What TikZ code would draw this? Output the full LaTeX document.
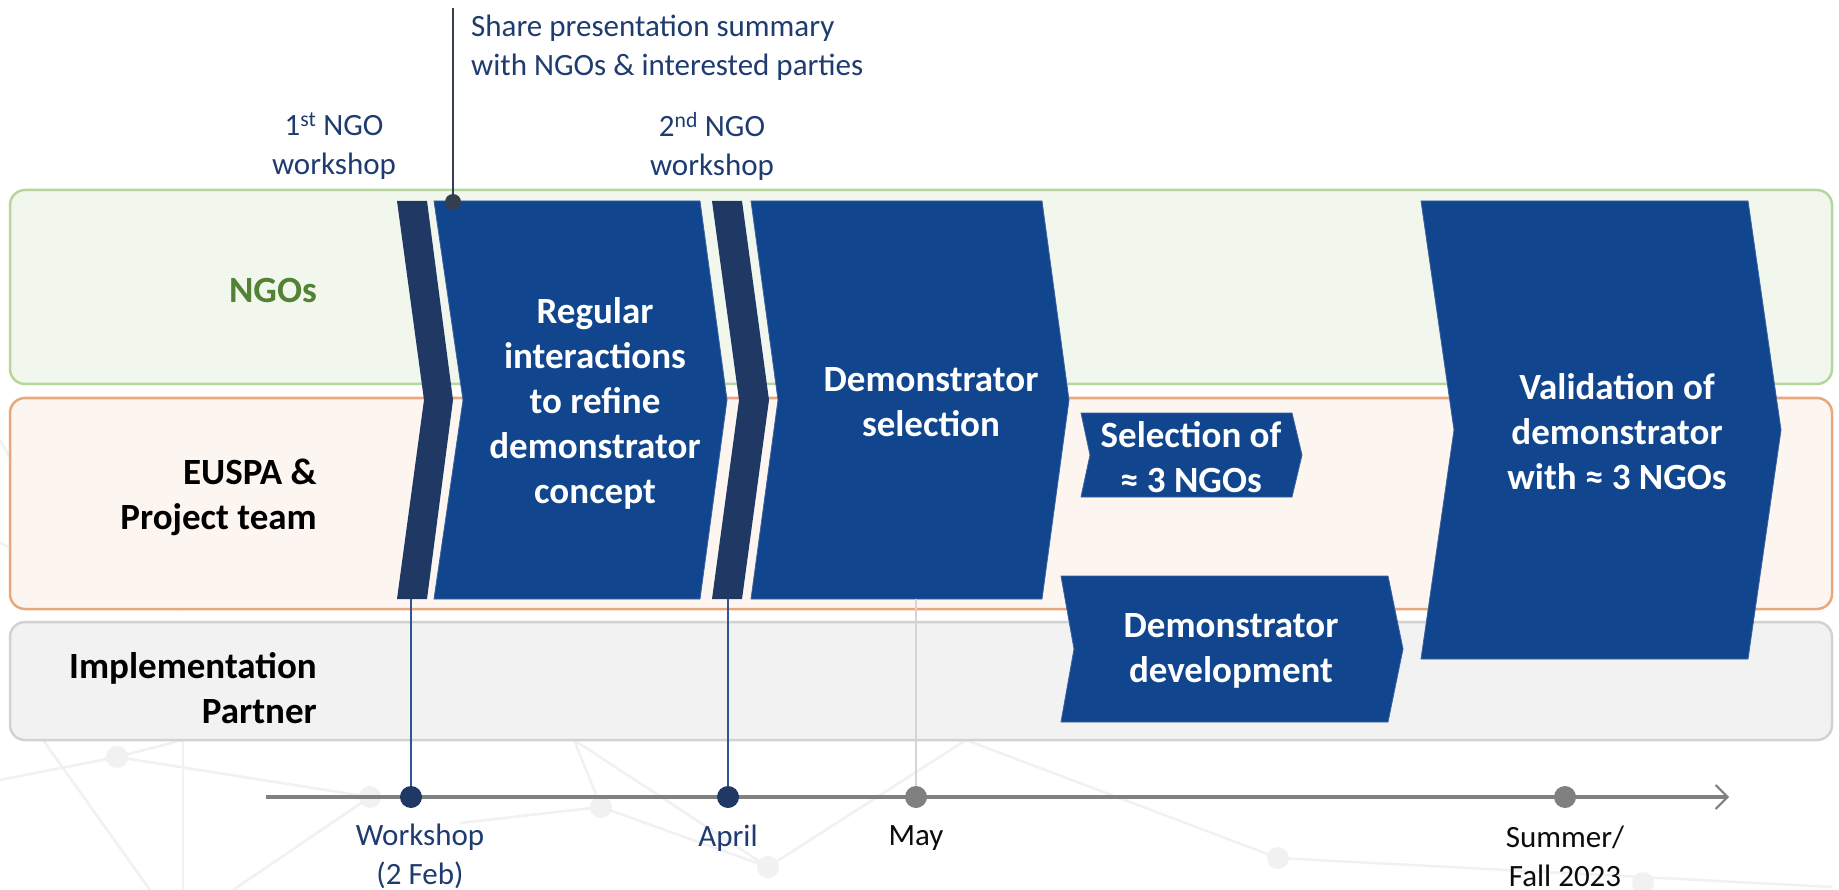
\documentclass[tikz,border=0pt]{standalone}
\usepackage{fontspec}
\setmainfont{Carlito}
\usetikzlibrary{arrows.meta}
\definecolor{chevblue}{HTML}{11468E}
\definecolor{chevedge}{HTML}{3A63A0}
\definecolor{darkbar}{HTML}{203864}
\definecolor{labblue}{HTML}{1F3C70}
\definecolor{ngogreen}{HTML}{548235}
\definecolor{ngofill}{HTML}{F1F7EC}
\definecolor{ngoline}{HTML}{B5D69D}
\definecolor{eufill}{HTML}{FDF5F0}
\definecolor{euline}{HTML}{E9A77D}
\definecolor{imfill}{HTML}{F2F2F2}
\definecolor{imline}{HTML}{D2D2D2}
\definecolor{tlgray}{HTML}{808080}
\definecolor{slate}{HTML}{333F50}
\definecolor{vblue}{HTML}{2F5597}
\definecolor{netgray}{HTML}{F1F1F1}
\definecolor{maygray}{HTML}{D5D5D5}
\definecolor{nearblack}{HTML}{0D0D0D}

% #1 style, #2 x-left, #3 x-right, #4 y-top, #5 y-bottom, #6 notch depth, #7 tip depth
\newcommand\chevshape[7]{%
  \path[#1] (#2,#4) -- (#3,#4) -- ({#3+#7},{(#4+#5)/2}) -- (#3,#5) -- (#2,#5)
    -- ({#2+#6},{(#4+#5)/2}) -- cycle;}

\tikzset{
  bluechev/.style={fill=chevblue, draw=chevedge, line width=0.8pt},
  darkchev/.style={fill=darkbar},
  lane/.style={rounded corners=15pt, line width=2.5pt},
  chevtext/.style={text=white, font=\fontsize{37}{45}\selectfont\bfseries, align=center, inner sep=0pt},
  lanelabel/.style={font=\fontsize{37}{45}\selectfont\bfseries, align=right, anchor=east, inner sep=0pt},
  toplabel/.style={text=labblue, font=\fontsize{31}{39}\selectfont, align=center, inner sep=0pt},
  datelabel/.style={font=\fontsize{31}{39}\selectfont, align=center, inner sep=0pt},
  navydot/.style={circle, fill=darkbar, minimum size=22pt, inner sep=0pt},
  graydot/.style={circle, fill=tlgray, minimum size=22pt, inner sep=0pt},
  netline/.style={draw=netgray, line width=2.5pt},
  netnode/.style={circle, fill=netgray, minimum size=22pt, inner sep=0pt},
  blueline/.style={draw=vblue, line width=1.5pt},
}

\begin{document}
\begin{tikzpicture}[x=1pt, y=-1pt]
\useasboundingbox (0,0) rectangle (1839,890);
\fill[white] (0,0) rectangle (1839,890);

% faint network watermark
\coordinate (n1) at (80,580);
\coordinate (n2) at (183,610);
\coordinate (n3) at (0,780);
\coordinate (n4) at (117,757);
\coordinate (n5) at (370,797);
\coordinate (n6) at (601,807);
\coordinate (n7) at (768,867);
\coordinate (n8) at (966,740);
\coordinate (n9) at (1278,858);
\coordinate (n10) at (1643,883);
\coordinate (n11) at (0,440);
\coordinate (n12) at (150,890);
\coordinate (n13) at (233,890);
\coordinate (n14) at (1832,887);
\coordinate (n15) at (183,890);
\coordinate (n16) at (574,740);
\coordinate (n17) at (43,740);
\coordinate (n18) at (183,740);
\coordinate (n19) at (460,823);
\coordinate (n20) at (0,543);
\draw[netline] (n11) -- (n1) -- (n2);
\draw[netline] (n20) -- (n1);
\draw[netline] (n3) -- (n4) -- (n18);
\draw[netline] (n4) -- (n5) -- (n13);
\draw[netline] (n17) -- (n12);
\draw[netline] (n18) -- (n15);
\draw[netline] (n19) -- (n6) -- (n16) -- (n7) -- (n8) -- (n9) -- (n14);
\draw[netline] (n6) -- (n7);
\node[netnode] (w1) at (n1) {};
\node[netnode] (w4) at (n4) {};
\node[netnode] (w5) at (n5) {};
\node[netnode] (w6) at (n6) {};
\node[netnode] (w7) at (n7) {};
\node[netnode] (w9) at (n9) {};
\node[netnode] (w10) at (n10) {};

% swim lanes
\draw[lane, draw=ngoline, fill=ngofill] (10,190) rectangle (1832,384);
\draw[lane, draw=euline, fill=eufill] (10,398) rectangle (1832,609);
\draw[lane, draw=imline, fill=imfill] (10,622) rectangle (1832,740);

\node[lanelabel, text=ngogreen] (lngo) at (317,291) {NGOs};
\node[lanelabel, text=black] (leuspa) at (317,497) {EUSPA \&\\Project team};
\node[lanelabel, text=black] (limpl) at (317,688) {Implementation\\Partner};

% chevrons
\chevshape{darkchev}{397}{427}{201}{599}{27}{26}
\chevshape{bluechev}{434}{700}{201}{599}{29}{27}
\chevshape{darkchev}{712}{742}{201}{599}{27}{27}
\chevshape{bluechev}{751}{1042}{201}{599}{27}{27}
\chevshape{bluechev}{1081}{1292}{413}{497}{9}{10}
\chevshape{bluechev}{1061}{1388}{576}{722}{13}{15}
\chevshape{bluechev}{1421}{1748}{201}{659}{33}{33}

\node[chevtext] (regular) at (595,403) {Regular\\interactions\\to refine\\demonstrator\\concept};
\node[chevtext] (demsel) at (931,402) {Demonstrator\\selection};
\node[chevtext] (sel3) at (1191,457) {Selection of\\≈ 3 NGOs};
\node[chevtext] (demdev) at (1231,651) {Demonstrator\\development};
\node[chevtext] (valid) at (1617,432) {Validation of\\demonstrator\\with ≈ 3 NGOs};

% top labels
\node[toplabel] (ws1) at (334,146) {1\textsuperscript{st} NGO\\workshop};
\node[toplabel] (ws2) at (712,146) {2\textsuperscript{nd} NGO\\workshop};
\node[toplabel, align=left, anchor=west] (share) at (471,48) {Share presentation summary\\with NGOs \& interested parties};

% share marker
\coordinate (sharetop) at (453,8);
\node[circle, fill=slate, minimum size=16pt, inner sep=0pt] (sharedot) at (453,202) {};
\draw[slate, line width=2pt] (sharetop) -- (sharedot.center);

% timeline
\coordinate (tlstart) at (266,797);
\coordinate (tlend) at (1729,797);
\draw[tlgray, line width=3.5pt, -{Straight Barb[length=12pt, width=24pt, line width=2pt]}] (tlstart) -- (tlend);

\node[navydot] (dws) at (411,797) {};
\node[navydot] (dapr) at (728,797) {};
\node[graydot] (dmay) at (916,797) {};
\node[graydot] (dsum) at (1565,797) {};

\coordinate (wstop) at (411,599);
\coordinate (aptop) at (728,599);
\coordinate (maytop) at (916,599);
\draw[blueline] (wstop) -- (dws.north);
\draw[blueline] (aptop) -- (dapr.north);
\draw[maygray, line width=1.3pt] (maytop) -- (dmay.north);

\node[datelabel, text=labblue] (tws) at (420,856) {Workshop\\(2 Feb)};
\node[datelabel, text=labblue] (tapr) at (728,838) {April};
\node[datelabel, text=nearblack] (tmay) at (916,838) {May};
\node[datelabel, text=nearblack] (tsum) at (1565,856) {Summer/\\Fall 2023};
\end{tikzpicture}
\end{document}
